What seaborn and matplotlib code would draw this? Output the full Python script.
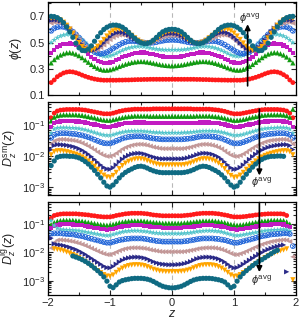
import numpy as np
import matplotlib
matplotlib.use('Agg')
import matplotlib.pyplot as plt
import seaborn as sns
from matplotlib.ticker import MultipleLocator, FixedLocator, LogLocator, NullFormatter

sns.set_style('ticks')
plt.rcParams['font.family'] = ['Liberation Sans', 'DejaVu Sans']
plt.rcParams['mathtext.fontset'] = 'custom'
plt.rcParams['mathtext.rm'] = 'Liberation Sans'
plt.rcParams['mathtext.it'] = 'Liberation Sans:italic'
plt.rcParams['mathtext.bf'] = 'Liberation Sans:bold'

nan = np.nan

# sample positions along z (79 points, step 0.05)
z = np.round(np.arange(-1.95, 1.951, 0.05), 2)

# ---- phi(z), top panel ----
phi_red = [.195,.215,.24,.255,.268,.275,.278,.276,.27,.262, .252,.243,.235,.228,.222,.218,.215,.213,.213,.213,
           .213,.213,.214,.214,.215,.215,.216,.217,.218,.218, .219,.219,.22,.22,.22,.22,.22,.22,.22, .22,
           .22,.22,.22,.22,.22,.22,.22,.219,.219, .218,.218,.217,.216,.215,.215,.214,.214,.213,.213,
           .213,.213,.213,.215,.218,.222,.228,.235,.243,.252, .262,.27,.276,.278,.275,.268,.255,.24,.215,.195]
phi_green = [.345,.37,.39,.405,.415,.422,.424,.42,.412,.40, .385,.368,.35,.333,.318,.305,.296,.29,.29,.293,
             .30,.308,.318,.327,.335,.342,.348,.352,.355,.356, .355,.352,.348,.343,.338,.333,.329,.326,.324, .323,
             .324,.326,.329,.333,.338,.343,.348,.352,.355, .356,.355,.352,.348,.342,.335,.327,.318,.308,.30,
             .293,.29,.29,.296,.305,.318,.333,.35,.368,.385, .40,.412,.42,.424,.422,.415,.405,.39,.37,.345]
phi_magenta = [.42,.445,.465,.478,.487,.492,.493,.49,.482,.47, .453,.433,.412,.393,.375,.362,.352,.346,.345,.348,
               .355,.365,.376,.387,.397,.405,.412,.418,.422,.424, .424,.421,.416,.41,.404,.398,.394,.391,.39, .389,
               .39,.391,.394,.398,.404,.41,.416,.421,.424, .424,.422,.418,.412,.405,.397,.387,.376,.365,.355,
               .348,.345,.346,.352,.362,.375,.393,.412,.433,.453, .47,.482,.49,.493,.492,.487,.478,.465,.445,.42]
phi_cyan = [.50,.52,.537,.549,.557,.562,.563,.56,.552,.54, .522,.50,.476,.453,.432,.415,.403,.396,.395,.398,
            .406,.417,.429,.44,.45,.458,.464,.468,.47,.47, .468,.464,.459,.454,.45,.447,.445,.444,.444, .444,
            .444,.444,.445,.447,.45,.454,.459,.464,.468, .47,.47,.468,.464,.458,.45,.44,.429,.417,.406,
            .398,.395,.396,.403,.415,.432,.453,.476,.50,.522, .54,.552,.56,.563,.562,.557,.549,.537,.52,.50]
phi_blue = [.59,.608,.618,.622,.62,.613,.60,.583,.562,.538, .512,.487,.463,.443,.428,.418,.415,.418,.427,.44,
            .455,.47,.484,.496,.505,.51,.512,.511,.508,.504, .50,.498,.498,.50,.504,.509,.514,.518,.52, .521,
            .52,.518,.514,.509,.504,.50,.498,.498,.50, .504,.508,.511,.512,.51,.505,.496,.484,.47,.455,
            .44,.427,.418,.415,.418,.428,.443,.463,.487,.512, .538,.562,.583,.60,.613,.62,.622,.618,.608,.59]
phi_rosy = [.648,.655,.655,.65,.64,.625,.605,.58,.552,.522, .493,.468,.45,.44,.44,.448,.463,.482,.503,.523,
            .54,.552,.558,.558,.553,.544,.533,.521,.51,.502, .498,.498,.502,.51,.52,.531,.541,.548,.552, .553,
            .552,.548,.541,.531,.52,.51,.502,.498,.498, .502,.51,.521,.533,.544,.553,.558,.558,.552,.54,
            .523,.503,.482,.463,.448,.44,.44,.45,.468,.493, .522,.552,.58,.605,.625,.64,.65,.655,.655,.648]
phi_navy = [.668,.673,.672,.665,.652,.634,.61,.582,.55,.518, .487,.462,.446,.44,.443,.455,.474,.497,.521,.543,
            .561,.573,.578,.577,.57,.558,.543,.528,.514,.503, .497,.496,.501,.511,.524,.539,.553,.563,.568, .57,
            .568,.563,.553,.539,.524,.511,.501,.496,.497, .503,.514,.528,.543,.558,.57,.577,.578,.573,.561,
            .543,.521,.497,.474,.455,.443,.44,.446,.462,.487, .518,.55,.582,.61,.634,.652,.665,.672,.673,.668]
phi_orange = [.685,.687,.683,.672,.655,.632,.603,.57,.535,.50, .47,.45,.44,.441,.452,.472,.497,.524,.55,.572,
              .589,.599,.602,.598,.588,.573,.555,.536,.518,.504, .495,.493,.498,.51,.527,.546,.564,.577,.584, .586,
              .584,.577,.564,.546,.527,.51,.498,.493,.495, .504,.518,.536,.555,.573,.588,.598,.602,.599,.589,
              .572,.55,.524,.497,.472,.452,.441,.44,.45,.47, .50,.535,.57,.603,.632,.655,.672,.683,.687,.685]
phi_teal = [.70,.698,.69,.675,.652,.62,.582,.54,.495,.46, .44,.438,.45,.475,.51,.545,.575,.60,.617,.628,
            .633,.633,.628,.617,.60,.578,.555,.533,.513,.499, .492,.493,.502,.518,.54,.563,.582,.594,.60, .602,
            .60,.594,.582,.563,.54,.518,.502,.493,.492, .499,.513,.533,.555,.578,.60,.617,.628,.633,.633,
            .628,.617,.60,.575,.545,.51,.475,.45,.438,.44, .46,.495,.54,.582,.62,.652,.675,.69,.698,.70]

# ---- log10 D_z^sm(z), middle panel ----
lsm_red = [-0.75,-0.6,-0.53,-0.5,-0.49,-0.48,-0.48,-0.48,-0.48,-0.48, -0.49,-0.5,-0.52,-0.54,-0.56,-0.58,-0.6,-0.62,-0.62,-0.62,
           -0.6,-0.57,-0.54,-0.52,-0.5,-0.49,-0.48,-0.47,-0.47,-0.47, -0.47,-0.47,-0.47,-0.46,-0.46,-0.46,-0.46,-0.46,-0.46, -0.46,
           -0.46,-0.46,-0.46,-0.46,-0.46,-0.46,-0.47,-0.47,-0.47, -0.47,-0.47,-0.47,-0.48,-0.49,-0.5,-0.52,-0.54,-0.57,-0.6,
           -0.62,-0.62,-0.62,-0.6,-0.58,-0.56,-0.54,-0.52,-0.5,-0.49, -0.48,-0.48,-0.48,-0.48,-0.48,-0.49,-0.5,-0.53,-0.6,-0.75]
lsm_green = [-0.85,-0.73,-0.68,-0.66,-0.65,-0.65,-0.65,-0.65,-0.65,-0.66, -0.67,-0.69,-0.71,-0.73,-0.75,-0.78,-0.8,-0.82,-0.83,-0.83,
             -0.81,-0.79,-0.76,-0.74,-0.72,-0.71,-0.7,-0.69,-0.69,-0.69, -0.69,-0.69,-0.7,-0.7,-0.7,-0.7,-0.7,-0.7,-0.7, -0.7,
             -0.7,-0.7,-0.7,-0.7,-0.7,-0.7,-0.7,-0.69,-0.69, -0.69,-0.69,-0.69,-0.7,-0.71,-0.72,-0.74,-0.76,-0.79,-0.81,
             -0.83,-0.83,-0.82,-0.8,-0.78,-0.75,-0.73,-0.71,-0.69,-0.67, -0.66,-0.65,-0.65,-0.65,-0.65,-0.65,-0.66,-0.68,-0.73,-0.47]
lsm_magenta = [-1.05,-0.93,-0.89,-0.87,-0.86,-0.86,-0.86,-0.86,-0.87,-0.87, -0.88,-0.9,-0.92,-0.94,-0.97,-0.99,-1.01,-1.03,-1.04,-1.04,
               -1.02,-1.0,-0.97,-0.95,-0.93,-0.92,-0.91,-0.9,-0.9,-0.9, -0.9,-0.91,-0.92,-0.92,-0.93,-0.93,-0.93,-0.93,-0.93, -0.93,
               -0.93,-0.93,-0.93,-0.93,-0.93,-0.92,-0.92,-0.91,-0.9, -0.9,-0.9,-0.9,-0.91,-0.92,-0.93,-0.95,-0.97,-1.0,-1.02,
               -1.04,-1.04,-1.03,-1.01,-0.99,-0.97,-0.94,-0.92,-0.9,-0.88, -0.87,-0.87,-0.86,-0.86,-0.86,-0.86,-0.87,-0.89,-0.93,-1.05]
lsm_cyan = [-1.25,-1.12,-1.08,-1.07,-1.07,-1.07,-1.08,-1.08,-1.09,-1.1, -1.12,-1.14,-1.17,-1.2,-1.23,-1.26,-1.29,-1.31,-1.32,-1.32,
            -1.3,-1.27,-1.24,-1.22,-1.2,-1.19,-1.18,-1.18,-1.18,-1.18, -1.19,-1.2,-1.21,-1.22,-1.23,-1.23,-1.24,-1.24,-1.24, -1.24,
            -1.24,-1.24,-1.24,-1.23,-1.23,-1.22,-1.21,-1.2,-1.19, -1.18,-1.18,-1.18,-1.18,-1.19,-1.2,-1.22,-1.24,-1.27,-1.3,
            -1.32,-1.32,-1.31,-1.29,-1.26,-1.23,-1.2,-1.17,-1.14,-1.12, -1.1,-1.09,-1.08,-1.08,-1.07,-1.07,-1.07,-1.08,-1.12,-1.25]
lsm_blue = [-1.4,-1.3,-1.26,-1.25,-1.25,-1.25,-1.26,-1.27,-1.28,-1.3, -1.32,-1.35,-1.38,-1.42,-1.46,-1.5,-1.54,-1.57,-1.58,-1.58,
            -1.55,-1.5,-1.46,-1.42,-1.39,-1.37,-1.36,-1.35,-1.35,-1.35, -1.36,-1.38,-1.4,-1.42,-1.43,-1.44,-1.45,-1.45,-1.45, -1.45,
            -1.45,-1.45,-1.45,-1.44,-1.43,-1.42,-1.4,-1.38,-1.36, -1.35,-1.35,-1.35,-1.36,-1.37,-1.39,-1.42,-1.46,-1.5,-1.55,
            -1.58,-1.58,-1.57,-1.54,-1.5,-1.46,-1.42,-1.38,-1.35,-1.32, -1.3,-1.28,-1.27,-1.26,-1.25,-1.25,-1.25,-1.26,-1.3,-1.4]
lsm_rosy = [-1.6,-1.5,-1.46,-1.45,-1.45,-1.46,-1.47,-1.48,-1.5,-1.53, -1.57,-1.62,-1.67,-1.73,-1.79,-1.86,-1.92,-1.97,-2.0,-2.0,
            -1.96,-1.9,-1.83,-1.76,-1.71,-1.67,-1.64,-1.62,-1.61,-1.61, -1.62,-1.64,-1.67,-1.7,-1.72,-1.74,-1.75,-1.75,-1.75, -1.75,
            -1.75,-1.75,-1.75,-1.74,-1.72,-1.7,-1.67,-1.64,-1.62, -1.61,-1.61,-1.62,-1.64,-1.67,-1.71,-1.76,-1.83,-1.9,-1.96,
            -2.0,-2.0,-1.97,-1.92,-1.86,-1.79,-1.73,-1.67,-1.62,-1.57, -1.53,-1.5,-1.48,-1.47,-1.46,-1.45,-1.45,-1.46,-1.5,-1.6]
lsm_navy = [-1.78,-1.65,-1.62,-1.62,-1.63,-1.64,-1.66,-1.68,-1.71,-1.75, -1.8,-1.86,-1.93,-2.01,-2.1,-2.19,-2.28,-2.36,-2.41,-2.42,
            -2.37,-2.28,-2.18,-2.09,-2.02,-1.97,-1.93,-1.91,-1.9,-1.9, -1.92,-1.95,-1.99,-2.02,-2.05,-2.07,-2.08,-2.08,-2.08, -2.08,
            -2.08,-2.08,-2.08,-2.07,-2.05,-2.02,-1.99,-1.95,-1.92, -1.9,-1.9,-1.91,-1.93,-1.97,-2.02,-2.09,-2.18,-2.28,-2.37,
            -2.42,-2.41,-2.36,-2.28,-2.19,-2.1,-2.01,-1.93,-1.86,-1.8, -1.75,-1.71,-1.68,-1.66,-1.64,-1.63,-1.62,-1.62,-1.65,-1.78]
lsm_orange = [-1.95,-1.85,-1.82,-1.82,-1.83,-1.85,-1.87,-1.9,-1.93,-1.97, -2.02,-2.08,-2.15,-2.23,-2.32,-2.42,-2.52,-2.61,-2.67,-2.68,
              -2.62,-2.52,-2.4,-2.3,-2.22,-2.16,-2.12,-2.09,-2.08,-2.08, -2.1,-2.14,-2.18,-2.22,-2.25,-2.27,-2.28,-2.28,-2.28, -2.28,
              -2.28,-2.28,-2.28,-2.27,-2.25,-2.22,-2.18,-2.14,-2.1, -2.08,-2.08,-2.09,-2.12,-2.16,-2.22,-2.3,-2.4,-2.52,-2.62,
              -2.68,-2.67,-2.61,-2.52,-2.42,-2.32,-2.23,-2.15,-2.08,-2.02, -1.97,-1.93,-1.9,-1.87,-1.85,-1.83,-1.82,-1.82,-1.85,-1.95]
lsm_teal = [-2.3,-2.15,-2.03,-2.0,-1.99,-1.99,-2.0,-2.0,-2.02,-2.05, -2.1,-2.17,-2.25,-2.35,-2.46,-2.58,-2.7,-2.84,-2.96,-3.0,
            -2.93,-2.82,-2.7,-2.6,-2.52,-2.46,-2.41,-2.36,-2.33,-2.32, -2.34,-2.38,-2.43,-2.47,-2.5,-2.52,-2.53,-2.53,-2.53, -2.53,
            -2.53,-2.53,-2.53,-2.52,-2.5,-2.47,-2.43,-2.38,-2.34, -2.32,-2.33,-2.36,-2.41,-2.46,-2.52,-2.6,-2.7,-2.82,-2.93,
            -3.0,-2.96,-2.84,-2.7,-2.58,-2.46,-2.35,-2.25,-2.17,-2.1, -2.05,-2.02,-2.0,-2.0,-1.99,-1.99,-2.0,nan,nan,nan]

# ---- log10 D_z^lg(z), bottom panel ----
llg_red = [-0.8,-0.7,-0.67,-0.65,-0.64,-0.64,-0.64,-0.64,-0.64,-0.65, -0.66,-0.67,-0.68,-0.7,-0.71,-0.73,-0.74,-0.75,-0.75,-0.75,
           -0.73,-0.7,-0.68,-0.66,-0.64,-0.63,-0.62,-0.62,-0.62,-0.62, -0.63,-0.64,-0.66,-0.68,-0.69,-0.7,-0.71,-0.71,-0.71, -0.71,
           -0.71,-0.71,-0.71,-0.7,-0.69,-0.68,-0.66,-0.64,-0.63, -0.62,-0.62,-0.62,-0.62,-0.63,-0.64,-0.66,-0.68,-0.7,-0.73,
           -0.75,-0.75,-0.75,-0.74,-0.73,-0.71,-0.7,-0.68,-0.67,-0.66, -0.65,-0.64,-0.64,-0.64,-0.64,-0.64,-0.65,-0.7,nan,nan]
llg_green = [-1.02,-0.95,-0.9,-0.88,-0.87,-0.87,-0.87,-0.87,-0.88,-0.89, -0.9,-0.92,-0.94,-0.96,-0.98,-1.0,-1.02,-1.03,-1.04,-1.03,
             -1.01,-0.98,-0.95,-0.93,-0.91,-0.9,-0.89,-0.89,-0.89,-0.89, -0.9,-0.91,-0.93,-0.94,-0.95,-0.96,-0.97,-0.97,-0.97, -0.97,
             -0.97,-0.97,-0.97,-0.96,-0.95,-0.94,-0.93,-0.91,-0.9, -0.89,-0.89,-0.89,-0.89,-0.9,-0.91,-0.93,-0.95,-0.98,-1.01,
             -1.03,-1.04,-1.03,-1.02,-1.0,-0.98,-0.96,-0.94,-0.92,-0.9, -0.89,-0.88,-0.87,-0.87,-0.87,-0.87,-0.88,-0.92,-1.0,nan]
llg_magenta = [-1.15,-1.08,-1.04,-1.02,-1.01,-1.01,-1.01,-1.02,-1.03,-1.04, -1.05,-1.07,-1.09,-1.11,-1.13,-1.15,-1.17,-1.19,-1.2,-1.19,
               -1.17,-1.14,-1.11,-1.09,-1.07,-1.06,-1.05,-1.05,-1.05,-1.05, -1.06,-1.07,-1.09,-1.1,-1.11,-1.12,-1.13,-1.13,-1.13, -1.13,
               -1.13,-1.13,-1.13,-1.12,-1.11,-1.1,-1.09,-1.07,-1.06, -1.05,-1.05,-1.05,-1.05,-1.06,-1.07,-1.09,-1.11,-1.14,-1.17,
               -1.19,-1.2,-1.19,-1.17,-1.15,-1.13,-1.11,-1.09,-1.07,-1.05, -1.04,-1.03,-1.02,-1.01,-1.01,-1.01,-1.02,-1.06,-1.12,nan]
llg_cyan = [-0.88,-1.05,-1.15,-1.19,-1.2,-1.21,-1.21,-1.22,-1.23,-1.24, -1.26,-1.28,-1.3,-1.32,-1.34,-1.36,-1.38,-1.4,-1.41,-1.4,
            -1.37,-1.34,-1.31,-1.28,-1.26,-1.25,-1.24,-1.24,-1.24,-1.25, -1.26,-1.27,-1.29,-1.31,-1.32,-1.33,-1.34,-1.34,-1.34, -1.34,
            -1.34,-1.34,-1.34,-1.33,-1.32,-1.31,-1.29,-1.27,-1.26, -1.25,-1.24,-1.24,-1.24,-1.25,-1.26,-1.28,-1.31,-1.34,-1.37,
            -1.4,-1.41,-1.4,-1.38,-1.36,-1.34,-1.32,-1.3,-1.28,-1.26, -1.24,-1.23,-1.22,-1.21,-1.21,-1.2,-1.19,-1.2,-1.25,nan]
llg_blue = [-1.34,-1.33,-1.33,-1.33,-1.34,-1.35,-1.36,-1.37,-1.39,-1.41, -1.43,-1.46,-1.49,-1.52,-1.55,-1.58,-1.61,-1.64,-1.66,-1.66,
            -1.63,-1.6,-1.57,-1.55,-1.53,-1.52,-1.51,-1.51,-1.51,-1.51, -1.52,-1.54,-1.56,-1.58,-1.6,-1.61,-1.62,-1.62,-1.62, -1.62,
            -1.62,-1.62,-1.62,-1.61,-1.6,-1.58,-1.56,-1.54,-1.52, -1.51,-1.51,-1.51,-1.51,-1.52,-1.53,-1.55,-1.57,-1.6,-1.63,
            -1.66,-1.66,-1.64,-1.61,-1.58,-1.55,-1.52,-1.49,-1.46,-1.43, -1.41,-1.39,-1.37,-1.36,-1.35,-1.34,-1.33,-1.33,-1.35,-1.78]
llg_rosy = [-1.85,-1.65,-1.57,-1.56,-1.57,-1.58,-1.6,-1.62,-1.65,-1.68, -1.72,-1.76,-1.81,-1.86,-1.91,-1.96,-2.01,-2.05,-2.08,-2.08,
            -2.04,-1.99,-1.94,-1.9,-1.87,-1.85,-1.84,-1.84,-1.84,-1.85, -1.86,-1.88,-1.91,-1.93,-1.95,-1.97,-1.98,-1.98,-1.98, -1.98,
            -1.98,-1.98,-1.98,-1.97,-1.95,-1.93,-1.91,-1.88,-1.86, -1.85,-1.84,-1.84,-1.84,-1.85,-1.87,-1.9,-1.94,-1.99,-2.04,
            -2.08,-2.08,-2.05,-2.01,-1.96,-1.91,-1.86,-1.81,-1.76,-1.72, -1.68,-1.65,-1.62,-1.6,-1.58,-1.57,-1.56,-1.57,-1.62,-2.16]
llg_navy = [-1.5,-1.7,-1.73,-1.74,-1.76,-1.79,-1.82,-1.86,-1.9,-1.95, -2.01,-2.07,-2.14,-2.21,-2.28,-2.35,-2.42,-2.49,-2.54,-2.55,
            -2.5,-2.42,-2.34,-2.28,-2.23,-2.2,-2.18,-2.17,-2.17,-2.18, -2.2,-2.23,-2.28,-2.33,-2.37,-2.4,-2.42,-2.43,-2.44, -2.44,
            -2.44,-2.43,-2.42,-2.4,-2.37,-2.33,-2.28,-2.23,-2.2, -2.18,-2.17,-2.17,-2.18,-2.2,-2.23,-2.28,-2.34,-2.42,-2.5,
            -2.55,-2.54,-2.49,-2.42,-2.35,-2.28,-2.21,-2.14,-2.07,-2.01, -1.95,-1.9,-1.86,-1.82,-1.79,-1.76,-1.74,-2.69,nan,nan]
llg_orange = [nan,-1.88,-1.9,-1.92,-1.95,-1.99,-2.03,-2.08,-2.13,-2.19, -2.26,-2.33,-2.41,-2.49,-2.57,-2.65,-2.72,-2.79,-2.84,-2.85,
              -2.8,-2.71,-2.63,-2.56,-2.51,-2.47,-2.45,-2.44,-2.44,-2.45, -2.47,-2.51,-2.55,-2.6,-2.63,-2.66,-2.67,-2.68,-2.68, -2.68,
              -2.68,-2.68,-2.67,-2.66,-2.63,-2.6,-2.55,-2.51,-2.47, -2.45,-2.44,-2.44,-2.45,-2.47,-2.51,-2.56,-2.63,-2.71,-2.8,
              -2.85,-2.84,-2.79,-2.72,-2.65,-2.57,-2.49,-2.41,-2.33,-2.26, -2.19,-2.13,-2.08,-2.03,-1.99,-1.95,-1.92,-1.88,nan,-2.97]
llg_teal = [nan,nan,nan,nan,nan,nan,nan,-2.13,-2.17,-2.21, -2.26,-2.32,-2.39,-2.47,-2.56,-2.65,-2.75,-2.87,-3.02,-3.2,
            -3.25,-3.15,-3.05,-3.0,-2.97,-2.95,-2.93,-2.92,-2.92,-2.92, -2.93,-2.95,-2.98,-3.03,-3.09,-3.15,-3.2,-3.23,-3.25, -3.26,
            -3.25,-3.23,-3.2,-3.15,-3.09,-3.03,-2.98,-2.95,-2.93, -2.92,-2.92,-2.92,-2.93,-2.95,-2.97,-3.0,-3.05,-3.15,-3.25,
            -3.2,-3.02,-2.87,-2.75,-2.65,-2.56,-2.47,-2.39,-2.32,-2.26, -2.19,-2.12,-2.05,-1.98,-1.93,nan,nan,nan,nan,nan]

# marker, colour, size for each phi_avg level (lowest first)
styles = [('o', '#ff1a1a', 12), ('^', '#119a11', 14), ('s', '#c21cc2', 9), ('*', '#55c5cc', 20),
          ('ox', '#1f64d8', 12), ('<', '#c39898', 14), ('>', '#2a2a88', 14), ('v', '#ffa500', 14),
          ('o', '#0f6a82', 14)]

top = [phi_red, phi_green, phi_magenta, phi_cyan, phi_blue, phi_rosy, phi_navy, phi_orange, phi_teal]
mid = [lsm_red, lsm_green, lsm_magenta, lsm_cyan, lsm_blue, lsm_rosy, lsm_navy, lsm_orange, lsm_teal]
bot = [llg_red, llg_green, llg_magenta, llg_cyan, llg_blue, llg_rosy, llg_navy, llg_orange, llg_teal]


def draw(ax, vals, marker, color, size, log=False):
    y = np.asarray(vals, dtype=float)
    if log:
        y = 10.0 ** y
    if marker == 'ox':
        sns.scatterplot(x=z, y=y, ax=ax, marker='o', s=size, facecolor='none',
                        edgecolor=color, linewidth=0.6)
        sns.scatterplot(x=z, y=y, ax=ax, marker='x', s=size * 0.45, color=color,
                        linewidth=0.6)
    else:
        sns.scatterplot(x=z, y=y, ax=ax, marker=marker, s=size, color=color,
                        edgecolor='none', linewidth=0)


fig = plt.figure(figsize=(3.02, 3.2), dpi=100)
left, width, height = 0.159, 0.821, 0.291
ax1 = fig.add_axes([left, 0.703, width, height])
ax2 = fig.add_axes([left, 0.391, width, height])
ax3 = fig.add_axes([left, 0.078, width, height])

for ax, group, log in [(ax1, top, False), (ax2, mid, True), (ax3, bot, True)]:
    for vals, (m, c, s) in zip(group, styles):
        draw(ax, vals, m, c, s, log)
    for v in (-1, 0, 1):
        ax.axvline(v, color='#b8b8b8', ls=(0, (4, 3)), lw=0.8, zorder=0)
    ax.set_xlim(-2, 2)
    ax.xaxis.set_major_locator(MultipleLocator(1))
    ax.xaxis.set_minor_locator(MultipleLocator(0.5))
    ax.tick_params(which='both', direction='in', top=True, right=True, labelsize=8, width=0.8, pad=2)
    ax.tick_params(which='major', length=3.5)
    ax.tick_params(which='minor', length=2)
    for sp in ax.spines.values():
        sp.set_linewidth(0.9)
        sp.set_color('black')
    if ax is not ax3:
        ax.set_xticklabels([])
    ax.set_xlabel('')

ax1.set_ylim(0.1, 0.81)
ax1.yaxis.set_major_locator(FixedLocator([0.1, 0.3, 0.5, 0.7]))
ax1.yaxis.set_minor_locator(FixedLocator([0.2, 0.4, 0.6, 0.8]))
ax1.set_ylabel(r'$\phi(z)$', fontsize=9, labelpad=4)

for ax, lo, hi in [(ax2, -3.25, -0.23), (ax3, -3.51, -0.22)]:
    ax.set_yscale('log')
    ax.set_ylim(10 ** lo, 10 ** hi)
    ax.yaxis.set_major_locator(LogLocator(base=10, numticks=10))
    ax.yaxis.set_minor_locator(LogLocator(base=10, subs=np.arange(2, 10), numticks=10))
    ax.yaxis.set_minor_formatter(NullFormatter())
ax2.set_ylabel(r'$D_z^{\rm sm}(z)$', fontsize=9, labelpad=2)
ax3.set_ylabel(r'$D_z^{\rm lg}(z)$', fontsize=9, labelpad=2)
ax3.set_xlabel(r'$z$', fontsize=9, labelpad=0)

arrow = dict(arrowstyle='-|>', color='black', lw=1.2, mutation_scale=8, shrinkA=0, shrinkB=0)
ax1.annotate('', xy=(1.22, 0.64), xytext=(1.22, 0.17), arrowprops=arrow)
ax1.text(1.08, 0.63, r'$\phi^{\rm avg}$', fontsize=8, va='bottom')
ax2.annotate('', xy=(1.41, 10 ** -2.62), xytext=(1.41, 10 ** -0.47), arrowprops=arrow)
ax2.text(1.28, 10 ** -3.1, r'$\phi^{\rm avg}$', fontsize=8, va='bottom')
ax3.annotate('', xy=(1.41, 10 ** -2.7), xytext=(1.41, 10 ** -0.24), arrowprops=arrow)
ax3.text(1.28, 10 ** -3.27, r'$\phi^{\rm avg}$', fontsize=8, va='bottom')

fig.savefig('out.png', dpi=100)
